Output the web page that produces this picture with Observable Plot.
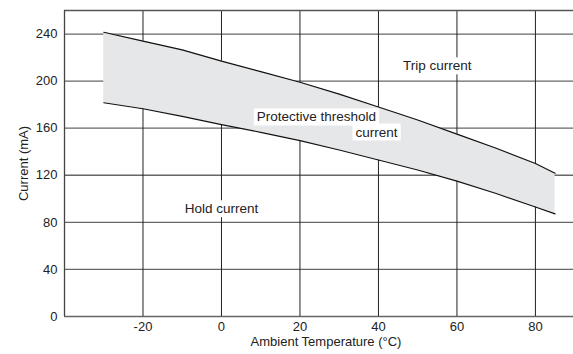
<!DOCTYPE html>
<html>
<head>
<meta charset="utf-8">
<script src="https://cdn.jsdelivr.net/npm/d3@7"></script>
<script src="https://cdn.jsdelivr.net/npm/@observablehq/plot@0.6"></script>
<style>
  html, body { margin: 0; padding: 0; background: #fff; }
</style>
</head>
<body>
<div id="chart"></div>
<script>
// Data
const temps = [-30, -20, -10, 0, 10, 20, 30, 40, 50, 60, 70, 80, 85];
const tripCurrent = [241.5, 234, 226.5, 217, 208, 199, 189, 178, 167, 155, 143, 130, 121.7];
const holdCurrent = [181.6, 176.5, 170, 163, 156.5, 149.5, 141.5, 133, 124.5, 115, 104.5, 93, 87.2];

const xTicks = [-20, 0, 20, 40, 60, 80];
const yTicks = [0, 40, 80, 120, 160, 200, 240];

const labelTexts = ["Trip current", "Protective threshold", "current", "Hold current"];
const labelX = [55, 24.2, 39.5, 0];
const labelY = [212.8, 169.4, 156.6, 91.4];

const xTitle = "Ambient Temperature (°C)";
const yTitle = "Current (mA)";

const rows = temps.map((t, i) => ({t, hi: tripCurrent[i], lo: holdCurrent[i]}));
const labels = labelTexts.map((s, i) => ({s, x: labelX[i], y: labelY[i]}));

const chart = Plot.plot({
  width: 573,
  height: 354,
  marginLeft: 64,
  marginRight: 0,
  marginTop: 10,
  marginBottom: 38,
  style: {fontFamily: "'Liberation Sans', Arial, sans-serif", fontSize: "13px", color: "#222", background: "#fff"},
  x: {domain: [-40, 89.7]},
  y: {domain: [0, 260]},
  marks: [
    Plot.ruleY(yTicks, {stroke: "#666", strokeWidth: 1.3}),
    Plot.ruleX(xTicks, {stroke: "#222", strokeWidth: 1}),
    Plot.ruleY([260], {stroke: "#555", strokeWidth: 1.3}),
    Plot.ruleX([-40], {stroke: "#444", strokeWidth: 1.3}),
    Plot.areaY(rows, {x: "t", y1: "lo", y2: "hi", fill: "#e6e7e9"}),
    Plot.lineY(rows, {x: "t", y: "hi", stroke: "#111", strokeWidth: 1.2}),
    Plot.lineY(rows, {x: "t", y: "lo", stroke: "#111", strokeWidth: 1.2}),
    Plot.axisX({ticks: xTicks, tickSize: 0, tickPadding: 5, tickFormat: d => String(d), label: null}),
    Plot.text([xTitle], {frameAnchor: "bottom", text: d => d, dx: 7, dy: 29, fill: "#222", fontSize: 13}),
    Plot.axisY({ticks: yTicks, tickSize: 0, tickPadding: 7, tickFormat: d => String(d), label: yTitle, labelAnchor: "center", labelArrow: "none", labelOffset: 46}),
    Plot.text(labels, {x: "x", y: "y", text: "s", fill: "#222", fontSize: 13.5, className: "lbl"})
  ]
});
document.getElementById("chart").appendChild(chart);

// white boxes behind annotation labels
document.querySelectorAll("g.lbl text").forEach(t => {
  const b = t.getBBox();
  const r = document.createElementNS("http://www.w3.org/2000/svg", "rect");
  r.setAttribute("x", b.x - 3);
  r.setAttribute("y", b.y - 1);
  r.setAttribute("width", b.width + 6);
  r.setAttribute("height", b.height + 2);
  r.setAttribute("fill", "#fff");
  if (t.getAttribute("transform")) r.setAttribute("transform", t.getAttribute("transform"));
  t.parentNode.insertBefore(r, t);
});
</script>
</body>
</html>
